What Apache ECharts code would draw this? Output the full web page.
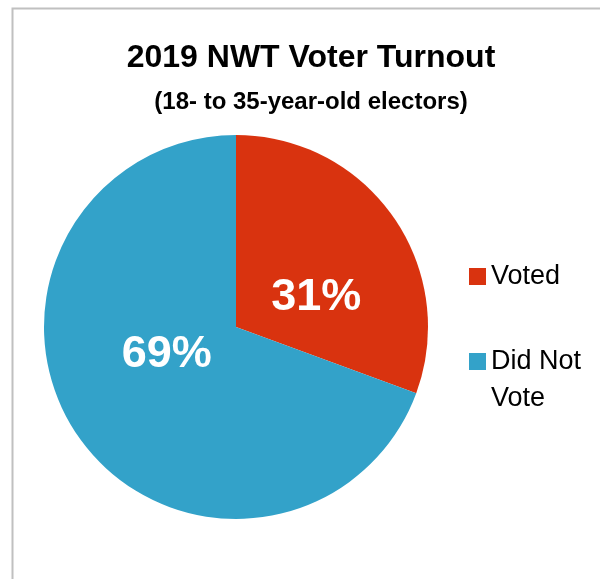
<!DOCTYPE html>
<html><head><meta charset="utf-8">
<script src="https://cdn.jsdelivr.net/npm/echarts@6/dist/echarts.min.js"></script>
<style>html,body{margin:0;padding:0;background:#fff;}#c{width:600px;height:579px;}</style>
</head><body><div id="c"></div>
<script>
const titleText = '2019 NWT Voter Turnout';
const subtitleText = '(18- to 35-year-old electors)';
const categories = ['Voted', 'Did Not Vote'];
const values = [30.6, 69.4];
const colors = ['#D9330F', '#33A2C9'];
const legendLabels = ['Voted', ' \nDid Not\nVote'];

const FONT = '"Liberation Sans Narrow", "Arial Narrow", "Liberation Sans", Arial, sans-serif';
const chart = echarts.init(document.getElementById('c'), null, {renderer: 'canvas'});
const offsets = [[-1, 27], [12, -29]];
chart.setOption({
  backgroundColor: '#fff',
  animation: false,
  graphic: [{
    type: 'rect', left: 10, top: 6, shape: {x: 0, y: 0, width: 620, height: 620},
    style: {fill: 'none', stroke: '#C0C0C0', lineWidth: 2}, silent: true
  }],
  title: {
    text: titleText, subtext: subtitleText, left: 306, textAlign: 'center', top: 35, itemGap: 13,
    padding: 5,
    textStyle: {fontFamily: FONT, fontWeight: 'bold', fontSize: 32, color: '#000', lineHeight: 36},
    subtextStyle: {fontFamily: FONT, fontWeight: 'bold', fontSize: 24, color: '#000', lineHeight: 26}
  },
  legend: [{
    data: [categories[0]], orient: 'vertical', left: 469, top: 261, padding: 0,
    icon: 'rect', itemWidth: 17, itemHeight: 17,
    formatter: () => legendLabels[0],
    textStyle: {fontFamily: FONT, fontSize: 27, color: '#000', lineHeight: 31}
  }, {
    data: [categories[1]], orient: 'vertical', left: 469, top: 306, padding: 0,
    icon: 'rect', itemWidth: 17, itemHeight: 17,
    formatter: () => legendLabels[1],
    textStyle: {fontFamily: FONT, fontSize: 27, color: '#000', lineHeight: 37}
  }],
  series: [{
    type: 'pie', center: [236, 327], radius: [0, 192], startAngle: 90, clockwise: true,
    silent: true, label: {show: true}, labelLine: {show: false},
    data: categories.map((c, i) => ({
      name: c, value: values[i], itemStyle: {color: colors[i]},
      label: {
        position: 'inside', offset: offsets[i],
        formatter: p => Math.round(p.percent) + '%',
        fontFamily: FONT, fontWeight: 'bold', fontSize: 45, color: '#fff'
      }
    })),
    itemStyle: {borderWidth: 0}
  }]
});
</script></body></html>
